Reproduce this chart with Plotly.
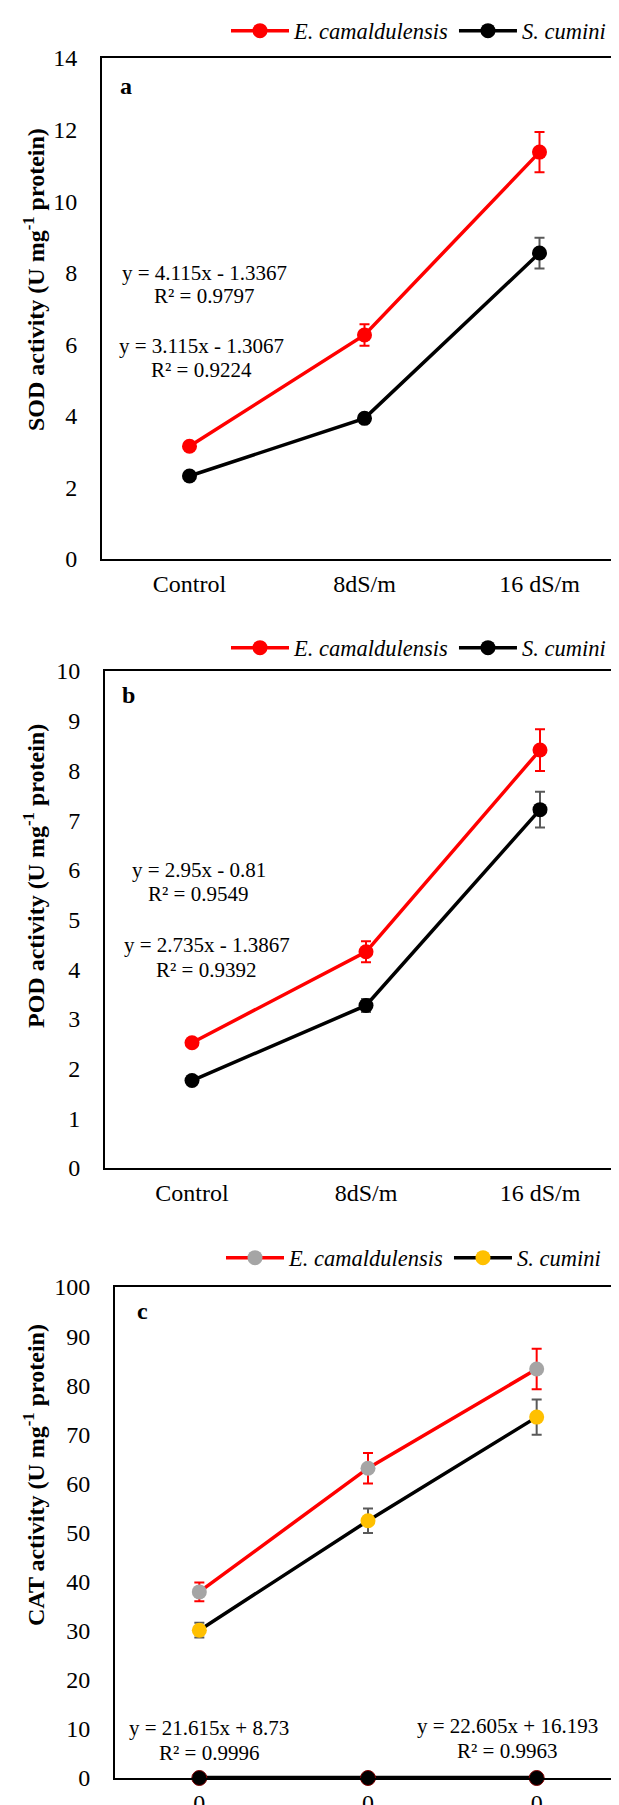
import plotly.graph_objects as go

# ---------------- data ----------------
categories_ab = ["Control", "8dS/m", "16 dS/m"]
categories_c = ["0", "0", "0"]
species = ["E. camaldulensis", "S. cumini"]

sod_ec = [3.15, 6.26, 11.37]
sod_ec_err = [0.10, 0.30, 0.56]
sod_sc = [2.32, 3.93, 8.55]
sod_sc_err = [0.05, 0.12, 0.43]

pod_ec = [2.52, 4.35, 8.41]
pod_ec_err = [0.07, 0.21, 0.42]
pod_sc = [1.76, 3.27, 7.21]
pod_sc_err = [0.03, 0.13, 0.36]

cat_ec = [37.9, 63.1, 83.3]
cat_ec_err = [1.9, 3.1, 4.1]
cat_sc = [30.1, 52.4, 73.5]
cat_sc_err = [1.5, 2.5, 3.6]
cat_zero = [0, 0, 0]

eq_a = [("y = 4.115x - 1.3367", "R² = 0.9797"), ("y = 3.115x - 1.3067", "R² = 0.9224")]
eq_b = [("y = 2.95x - 0.81", "R² = 0.9549"), ("y = 2.735x - 1.3867", "R² = 0.9392")]
eq_c = [("y = 21.615x + 8.73", "R² = 0.9996"), ("y = 22.605x + 16.193", "R² = 0.9963")]

# ---------------- helpers ----------------
W, H = 619, 1805
FONT = "Liberation Serif, Times New Roman, serif"


def fx(p):
    return p / W


def fy(p):
    return 1 - p / H


fig = go.Figure()

pan = {
    "a": dict(x0=94, x1=619, y0=50, y1=551, xa="x", ya="y", leg="legend"),
    "b": dict(x0=97, x1=619, y0=663, y1=1160, xa="x2", ya="y2", leg="legend2"),
    "c": dict(x0=107, x1=613, y0=1279, y1=1770, xa="x3", ya="y3", leg="legend3"),
}

MS = 15
LW = 3.5


def add_series(p, cats, vals, errs, name, lcolor, mcolor, ecolor):
    fig.add_trace(go.Scatter(
        x=cats, y=vals, name="<i>%s</i>" % name,
        mode="lines+markers",
        line=dict(color=lcolor, width=LW),
        marker=dict(color=mcolor, size=MS),
        error_y=dict(type="data", array=errs, color=ecolor, thickness=2, width=5),
        xaxis=p["xa"], yaxis=p["ya"], legend=p["leg"],
        cliponaxis=False,
    ))


# panel a
add_series(pan["a"], categories_ab, sod_ec, sod_ec_err, species[0], "#FF0000", "#FF0000", "#FF0000")
add_series(pan["a"], categories_ab, sod_sc, sod_sc_err, species[1], "#000000", "#000000", "#595959")
# panel b
add_series(pan["b"], categories_ab, pod_ec, pod_ec_err, species[0], "#FF0000", "#FF0000", "#FF0000")
add_series(pan["b"], categories_ab, pod_sc, pod_sc_err, species[1], "#000000", "#000000", "#595959")
# panel c
cx = [0, 1, 2]
fig.add_trace(go.Scatter(
    x=cx, y=cat_zero, name="zero", mode="lines+markers", showlegend=False,
    line=dict(color="#000000", width=4.5),
    marker=dict(color="#000000", size=MS, line=dict(color="#7f0000", width=1)),
    xaxis="x3", yaxis="y3", cliponaxis=False,
))
add_series(pan["c"], cx, cat_ec, cat_ec_err, species[0], "#FF0000", "#A5A5A5", "#FF0000")
add_series(pan["c"], cx, cat_sc, cat_sc_err, species[1], "#000000", "#FFC000", "#595959")

tickfont = dict(family=FONT, size=24, color="black")


def xax(p, mirror, cats=None):
    d = dict(domain=[fx(p["x0"]), fx(p["x1"])], anchor=p["ya"], showline=True,
             linecolor="black", linewidth=2, mirror=mirror, showgrid=False,
             zeroline=False, ticks="", tickfont=tickfont, range=[-0.5, 2.5],
             ticklabelstandoff=2, fixedrange=True)
    if cats is not None:
        d.update(tickmode="array", tickvals=[0, 1, 2], ticktext=cats)
    return d


def yax(p, rng, dt, mirror):
    return dict(domain=[fy(p["y1"]), fy(p["y0"])], anchor=p["xa"], showline=True,
                linecolor="black", linewidth=2, mirror=mirror, showgrid=False,
                zeroline=False, ticks="", tickfont=tickfont, range=rng, dtick=dt,
                tickmode="linear", tick0=0, ticklabelstandoff=18, fixedrange=True)


leg_common = dict(orientation="h", font=dict(family=FONT, size=22.5, color="black"),
                  bgcolor="rgba(0,0,0,0)", xanchor="right", yanchor="middle",
                  itemwidth=58, traceorder="normal")

fig.update_layout(
    width=W, height=H, margin=dict(l=0, r=0, t=0, b=0, autoexpand=False),
    paper_bgcolor="white", plot_bgcolor="white",
    xaxis=xax(pan["a"], True),
    yaxis=yax(pan["a"], [0, 14], 2, False),
    xaxis2=xax(pan["b"], True),
    yaxis2=yax(pan["b"], [0, 10], 1, False),
    xaxis3=xax(pan["c"], True, categories_c),
    yaxis3=yax(pan["c"], [0, 100], 10, True),
    legend=dict(leg_common, x=fx(603), y=fy(23)),
    legend2=dict(leg_common, x=fx(603), y=fy(640)),
    legend3=dict(leg_common, x=fx(598), y=fy(1250)),
)

ann = []


def txt(x, y, s, size=21, bold=False, angle=0):
    ann.append(dict(xref="paper", yref="paper", x=fx(x), y=fy(y), text=("<b>%s</b>" % s) if bold else s,
                    showarrow=False, xanchor="center", yanchor="middle", textangle=angle,
                    font=dict(family=FONT, size=size, color="black")))


# panel labels
txt(118, 78, "a", 24, True)
txt(120, 687, "b", 24, True)
txt(134, 1303, "c", 24, True)

# y titles
txt(26, 272, "SOD activity (U mg<sup>-1</sup> protein)", 24, True, -90)
txt(26, 868, "POD activity (U mg<sup>-1</sup> protein)", 24, True, -90)
txt(26, 1467, "CAT activity (U mg<sup>-1</sup> protein)", 24, True, -90)

# trendline equations
txt(196, 265, eq_a[0][0]); txt(196, 288, eq_a[0][1])
txt(193, 338, eq_a[1][0]); txt(193, 362, eq_a[1][1])
txt(191, 862, eq_b[0][0]); txt(190, 886, eq_b[0][1])
txt(199, 937, eq_b[1][0]); txt(198, 962, eq_b[1][1])
txt(201, 1720, eq_c[0][0]); txt(201, 1745, eq_c[0][1])
txt(500, 1718, eq_c[1][0]); txt(499, 1743, eq_c[1][1])

fig.update_layout(annotations=ann)

fig.write_html("out.html")
